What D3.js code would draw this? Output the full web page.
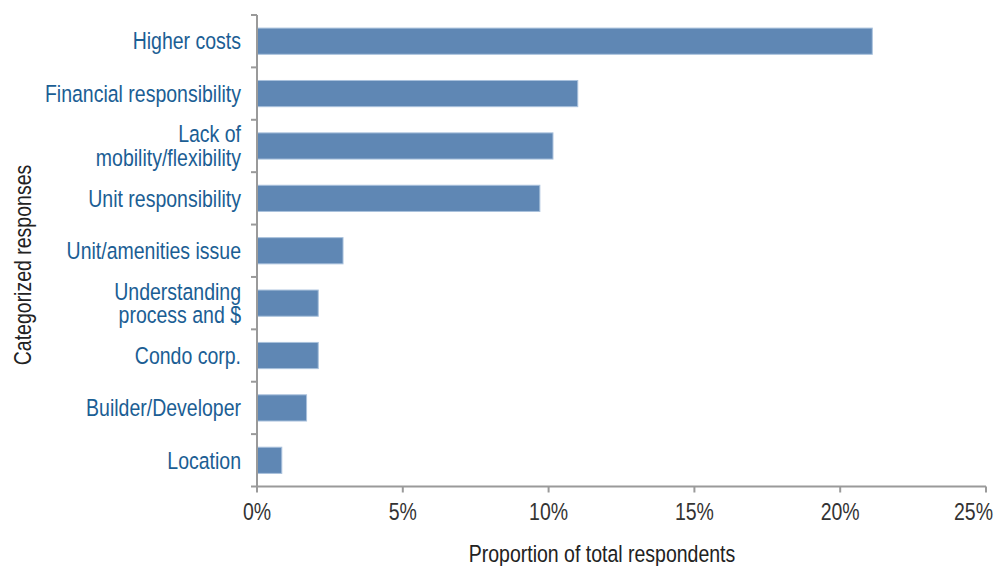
<!DOCTYPE html>
<html><head><meta charset="utf-8">
<script src="https://cdn.jsdelivr.net/npm/d3@7"></script>
<style>body{margin:0;background:#fff}</style>
</head><body>
<svg id="c" width="996" height="566"></svg>
<script>
const categories = [["Higher costs"],["Financial responsibility"],["Lack of","mobility/flexibility"],["Unit responsibility"],["Unit/amenities issue"],["Understanding","process and $"],["Condo corp."],["Builder/Developer"],["Location"]];
const values = [21.1, 11.0, 10.15, 9.7, 2.95, 2.1, 2.1, 1.7, 0.85];
const xTicks = [0,5,10,15,20,25];
const xTitle = "Proportion of total respondents";
const yTitle = "Categorized responses";

const font = "'Liberation Sans',Arial,sans-serif";
const fs = 23.5, sx = 0.83;
const svg = d3.select("#c");
const m = {l:257, t:15};
const W = 986, H = 486.5;
const x = d3.scaleLinear().domain([0,25]).range([m.l, W]);
const y = d3.scaleBand().domain(d3.range(categories.length)).range([m.t, H]).paddingInner(0.5).paddingOuter(0.25);
const yb = d3.scaleBand().domain(d3.range(categories.length)).range([m.t, H]);

svg.selectAll("rect.bar").data(values).join("rect")
  .attr("x", x(0)).attr("y",(d,i)=>y(i)).attr("width",d=>x(d)-x(0)).attr("height",y.bandwidth())
  .attr("fill","#5f87b4").attr("stroke","#a9c1dc").attr("stroke-width",1);

const axc = "#9a9a9a";
const ax = svg.append("g");
ax.append("line").attr("x1",x(0)).attr("x2",x(0)).attr("y1",m.t).attr("y2",H).attr("stroke",axc).attr("stroke-width",2);
ax.selectAll("line.yt").data(d3.range(categories.length+1)).join("line")
  .attr("x1",x(0)-6).attr("x2",x(0)).attr("y1",i=>m.t+i*yb.step()).attr("y2",i=>m.t+i*yb.step())
  .attr("stroke",axc).attr("stroke-width",2);
ax.append("line").attr("x1",x(0)).attr("x2",W).attr("y1",H).attr("y2",H).attr("stroke",axc).attr("stroke-width",2);
ax.selectAll("line.xt").data(xTicks).join("line")
  .attr("x1",d=>x(d)).attr("x2",d=>x(d)).attr("y1",H).attr("y2",H+6).attr("stroke",axc).attr("stroke-width",2);

function txt(tx, ty, rot, anchor, color){
  const g = svg.append("g").attr("transform",`translate(${tx},${ty}) rotate(${rot}) scale(${sx},1)`);
  const t = g.append("text").attr("text-anchor",anchor).attr("font-family",font).attr("font-size",fs).attr("fill",color);
  t.g = g;
  return t;
}

xTicks.forEach(d=>{
  let cx = x(d);
  const t = txt(cx, H+33.5, 0, "middle", "#333").text(d+"%");
  const w = t.node().getBBox().width*sx;
  if (cx + w/2 > 993) { cx = 993 - w/2; t.g.attr("transform",`translate(${cx},${H+33.5}) scale(${sx},1)`); }
});

categories.forEach((lines,i)=>{
  const cy = y(i)+y.bandwidth()/2;
  const lh = 23.5;
  const t = txt(241, cy, 0, "end", "#1b5e94");
  lines.forEach((s,j)=>{
    t.append("tspan").attr("x",0).attr("y",(j-(lines.length-1)/2)*lh).attr("dy","0.35em").text(s);
  });
});

txt(602, 562, 0, "middle", "#222").text(xTitle);
txt(30.7, 265, -90, "middle", "#222").text(yTitle);
</script>
</body></html>
